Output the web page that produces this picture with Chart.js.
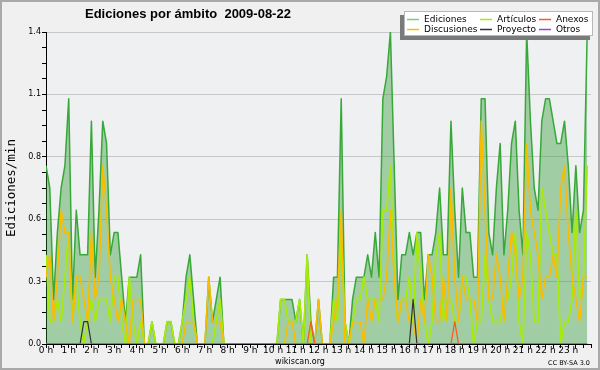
<!DOCTYPE html>
<html>
<head>
<meta charset="utf-8">
<script src="https://cdn.jsdelivr.net/npm/chart.js@4.4.1/dist/chart.umd.min.js"></script>
<style>
  html, body { margin: 0; padding: 0; background: #f0f0f0; }
  canvas { display: block; }
</style>
</head>
<body>
<canvas id="chart" width="600" height="370"></canvas>
<script>
// 10-minute slots over the day (0 = 00:00, 143 = 23:50)
const slots = Array.from({ length: 144 }, (_, i) => i);

// edits per minute, one row per hour
const ediciones = [
  0.8, 0.7, 0.2, 0.5, 0.7, 0.8,   // 0 h
  1.1, 0.2, 0.6, 0.4, 0.4, 0.4,   // 1 h
  1.0, 0.3, 0.6, 1.0, 0.9, 0.4,   // 2 h
  0.5, 0.5, 0.3, 0.1, 0.3, 0.3,   // 3 h
  0.3, 0.4, 0,   0,   0.1, 0,     // 4 h
  0,   0,   0.1, 0.1, 0,   0,     // 5 h
  0.1, 0.3, 0.4, 0.2, 0,   0,     // 6 h
  0,   0.3, 0.1, 0.2, 0.3, 0,     // 7 h
  0,   0,   0,   0,   0,   0,     // 8 h
  0,   0,   0,   0,   0,   0,     // 9 h
  0,   0,   0.2, 0.2, 0.2, 0.2,   // 10 h
  0.1, 0.2, 0,   0.4, 0.1, 0,     // 11 h
  0.2, 0,   0,   0,   0.3, 0.3,   // 12 h
  1.1, 0.1, 0,   0.2, 0.3, 0.3,   // 13 h
  0.3, 0.4, 0.3, 0.5, 0.3, 1.1,   // 14 h
  1.2, 1.4, 0.8, 0.2, 0.4, 0.4,   // 15 h
  0.5, 0.4, 0.5, 0.5, 0.2, 0.4,   // 16 h
  0.4, 0.5, 0.7, 0.4, 0.4, 1.0,   // 17 h
  0.6, 0.3, 0.7, 0.5, 0.5, 0.3,   // 18 h
  0.3, 1.1, 1.1, 0.5, 0.4, 0.7,   // 19 h
  0.9, 0.4, 0.6, 0.9, 1.0, 0.6,   // 20 h
  0.4, 1.4, 1.0, 0.7, 0.6, 1.0,   // 21 h
  1.1, 1.1, 1.0, 0.9, 0.9, 1.0,   // 22 h
  0.8, 0.5, 0.8, 0.5, 0.6, 1.4    // 23 h
];

const articulos = [
  0.4, 0.1, 0.1, 0.2, 0.1, 0.3,   // 0 h
  0.5, 0.1, 0.3, 0.1, 0,   0.1,   // 1 h
  0.2, 0.1, 0.2, 0.2, 0.2, 0.1,   // 2 h
  0.3, 0.3, 0.1, 0,   0.3, 0.1,   // 3 h
  0,   0.1, 0,   0,   0.1, 0,     // 4 h
  0,   0,   0.1, 0.1, 0,   0,     // 5 h
  0.1, 0.2, 0.3, 0.1, 0,   0,     // 6 h
  0,   0,   0,   0.1, 0.2, 0,     // 7 h
  0,   0,   0,   0,   0,   0,     // 8 h
  0,   0,   0,   0,   0,   0,     // 9 h
  0,   0,   0.2, 0.2, 0.1, 0.1,   // 10 h
  0.1, 0.2, 0,   0.4, 0,   0,     // 11 h
  0,   0,   0,   0,   0.2, 0.1,   // 12 h
  0.5, 0.1, 0,   0.1, 0.2, 0.2,   // 13 h
  0.3, 0.2, 0.2, 0.2, 0.1, 0.6,   // 14 h
  0.6, 0.8, 0.3, 0.1, 0.2, 0.2,   // 15 h
  0.3, 0.1, 0.5, 0.3, 0.1, 0,     // 16 h
  0.1, 0.4, 0.5, 0.1, 0.2, 0.2,   // 17 h
  0.1, 0.1, 0.3, 0.3, 0.2, 0,     // 18 h
  0.1, 0.1, 0.4, 0.2, 0.1, 0.1,   // 19 h
  0.1, 0.2, 0.2, 0.3, 0.5, 0.1,   // 20 h
  0,   0.5, 0.4, 0.1, 0.1, 0.7,   // 21 h
  0.6, 0.5, 0.4, 0.4, 0,   0.1,   // 22 h
  0.1, 0.2, 0.6, 0.2, 0.3, 0.8    // 23 h
];

const discusiones = [
  0.3, 0.4, 0.1, 0.3, 0.6, 0.5,   // 0 h
  0.5, 0.1, 0.3, 0.3, 0.2, 0.1,   // 1 h
  0.5, 0.2, 0.3, 0.8, 0.6, 0.3,   // 2 h
  0.2, 0.1, 0.2, 0.1, 0,   0.2,   // 3 h
  0.2, 0.2, 0,   0,   0,   0,     // 4 h
  0,   0,   0,   0,   0,   0,     // 5 h
  0,   0.1, 0.1, 0.1, 0,   0,     // 6 h
  0,   0.3, 0.1, 0.1, 0.1, 0,     // 7 h
  0,   0,   0,   0,   0,   0,     // 8 h
  0,   0,   0,   0,   0,   0,     // 9 h
  0,   0,   0,   0,   0.1, 0.1,   // 10 h
  0,   0,   0,   0,   0,   0,     // 11 h
  0.2, 0,   0,   0,   0.1, 0.2,   // 12 h
  0.6, 0,   0,   0.1, 0.1, 0.1,   // 13 h
  0,   0.2, 0.1, 0.2, 0.2, 0.2,   // 14 h
  0.3, 0.6, 0.3, 0.1, 0.2, 0.2,   // 15 h
  0.1, 0.1, 0,   0.2, 0.1, 0.4,   // 16 h
  0.3, 0.1, 0.1, 0.3, 0.1, 0.7,   // 17 h
  0.3, 0.1, 0.3, 0.2, 0.2, 0.2,   // 18 h
  0.1, 1.0, 0.6, 0.2, 0.2, 0.4,   // 19 h
  0.3, 0.1, 0.3, 0.5, 0.4, 0.2,   // 20 h
  0.3, 0.9, 0.6, 0.5, 0.4, 0.2,   // 21 h
  0.3, 0.3, 0.4, 0.3, 0.7, 0.8,   // 22 h
  0.5, 0.3, 0.2, 0.1, 0.3, 0.3    // 23 h
];

const proyecto = [
  0, 0, 0, 0, 0, 0,      0, 0, 0, 0, 0.1, 0.1,  // 0-1 h
  0, 0, 0, 0, 0, 0,      0, 0, 0, 0, 0, 0,      // 2-3 h
  0, 0, 0, 0, 0, 0,      0, 0, 0, 0, 0, 0,      // 4-5 h
  0, 0, 0, 0, 0, 0,      0, 0, 0, 0, 0, 0,      // 6-7 h
  0, 0, 0, 0, 0, 0,      0, 0, 0, 0, 0, 0,      // 8-9 h
  0, 0, 0, 0, 0, 0,      0, 0, 0, 0, 0, 0,      // 10-11 h
  0, 0, 0, 0, 0, 0,      0, 0, 0, 0, 0, 0,      // 12-13 h
  0, 0, 0, 0, 0, 0,      0, 0, 0, 0, 0, 0,      // 14-15 h
  0, 0.2, 0, 0, 0, 0,    0, 0, 0, 0, 0, 0,      // 16-17 h
  0, 0, 0, 0, 0, 0,      0, 0, 0, 0, 0, 0,      // 18-19 h
  0, 0, 0, 0, 0, 0,      0, 0, 0, 0, 0, 0,      // 20-21 h
  0, 0, 0, 0, 0, 0,      0, 0, 0, 0, 0, 0       // 22-23 h
];

const anexos = [
  0, 0, 0, 0, 0, 0,      0, 0, 0, 0, 0, 0,      // 0-1 h
  0, 0, 0, 0, 0, 0,      0, 0, 0, 0, 0, 0,      // 2-3 h
  0, 0, 0, 0, 0, 0,      0, 0, 0, 0, 0, 0,      // 4-5 h
  0, 0, 0, 0, 0, 0,      0, 0, 0, 0, 0, 0,      // 6-7 h
  0, 0, 0, 0, 0, 0,      0, 0, 0, 0, 0, 0,      // 8-9 h
  0, 0, 0, 0, 0, 0,      0, 0, 0, 0, 0.1, 0,    // 10-11 h
  0, 0, 0, 0, 0, 0,      0, 0, 0, 0, 0, 0,      // 12-13 h
  0, 0, 0, 0, 0, 0,      0, 0, 0, 0, 0, 0,      // 14-15 h
  0, 0, 0, 0, 0, 0,      0, 0, 0, 0, 0, 0,      // 16-17 h
  0.1, 0, 0, 0, 0, 0,    0, 0, 0, 0, 0, 0,      // 18-19 h
  0, 0, 0, 0, 0, 0,      0, 0, 0, 0, 0, 0,      // 20-21 h
  0, 0, 0, 0, 0, 0,      0, 0, 0, 0, 0, 0       // 22-23 h
];

// nothing visible for "Otros" on that day
const otros = slots.map(() => 0);

const yMax = 1.4;
const yMajor = 0.28;   // labelled gridlines
const yMinor = 0.07;   // small ticks
const isMajor = v => Math.abs(v / yMajor - Math.round(v / yMajor)) < 1e-6;

// background, frame, title, legend box and footer
const decor = {
    id: "decor",
    beforeDraw(chart) {
        const { ctx, chartArea: a } = chart;
        ctx.save();
        ctx.fillStyle = "#f0f0f0";
        ctx.fillRect(0, 0, chart.width, chart.height);
        ctx.fillStyle = "#eef0f2";
        ctx.fillRect(a.left, a.top, a.right - a.left, a.bottom - a.top);
        ctx.restore();
    },
    afterDatasetsDraw(chart) {
        // keep the axis line black on top of the zero-level lines
        const { ctx, chartArea: a } = chart;
        ctx.save();
        ctx.strokeStyle = "#000";
        ctx.lineWidth = 1;
        ctx.beginPath();
        ctx.moveTo(Math.round(a.left) + 0.5, Math.round(a.bottom) + 0.5);
        ctx.lineTo(Math.round(a.right), Math.round(a.bottom) + 0.5);
        ctx.stroke();
        ctx.restore();
    },
    afterDraw(chart) {
        const ctx = chart.ctx;
        ctx.save();

        // outer frame
        ctx.strokeStyle = "#a9a9a9";
        ctx.lineWidth = 2;
        ctx.strokeRect(1, 1, chart.width - 2, chart.height - 2);

        // title
        ctx.fillStyle = "#000";
        ctx.font = "bold 13px 'Liberation Sans'";
        ctx.textAlign = "left";
        ctx.textBaseline = "alphabetic";
        ctx.fillText("Ediciones por ámbito  2009-08-22", 85, 18);

        // legend box with its shadow
        ctx.fillStyle = "#7a7a7a";
        ctx.fillRect(400, 15, 190, 25);
        ctx.fillStyle = "#ffffff";
        ctx.fillRect(404, 11, 189, 25);
        ctx.strokeStyle = "#b8b8b8";
        ctx.lineWidth = 1;
        ctx.strokeRect(404.5, 11.5, 188, 24);

        const cols = [407, 480, 539];
        const rows = [19, 29];
        const order = [0, 1, 4, 2, 3, 5]; // Ediciones, Artículos, Anexos / Discusiones, Proyecto, Otros
        ctx.font = "9px 'DejaVu Sans'";
        order.forEach((di, k) => {
            const ds = chart.data.datasets[di];
            const x = cols[k % 3];
            const y = rows[Math.floor(k / 3)];
            ctx.strokeStyle = ds.legendColor || ds.borderColor;
            ctx.lineWidth = 1.5;
            ctx.beginPath();
            ctx.moveTo(x, y + 0.5);
            ctx.lineTo(x + 12, y + 0.5);
            ctx.stroke();
            ctx.fillStyle = "#000";
            ctx.fillText(ds.label, x + 17, y + 3);
        });

        // footer
        ctx.font = "8px 'DejaVu Sans'";
        ctx.textAlign = "center";
        ctx.fillText("wikiscan.org", 300, 364);
        ctx.font = "6.5px 'DejaVu Sans'";
        ctx.textAlign = "right";
        ctx.fillText("CC BY-SA 3.0", 590, 365);

        ctx.restore();
    }
};

const ctx = document.getElementById("chart").getContext("2d");
new Chart(ctx, {
    type: "line",
    data: {
        labels: slots,
        datasets: [
            {
                label: "Ediciones",
                data: ediciones,
                order: 6,
                fill: "origin",
                backgroundColor: "rgba(40, 150, 40, 0.39)",
                borderColor: "#38a838",
                borderWidth: 1.5,
                legendColor: "#80c880"
            },
            { label: "Artículos", data: articulos, order: 5, borderColor: "#a8ea08", borderWidth: 1.7 },
            { label: "Discusiones", data: discusiones, order: 4, borderColor: "#f9bd00", borderWidth: 1.6 },
            { label: "Proyecto", data: proyecto, order: 3, borderColor: "#333333", borderWidth: 1.2 },
            { label: "Anexos", data: anexos, order: 2, borderColor: "#ff5a1e", borderWidth: 1.3 },
            { label: "Otros", data: otros, order: 1, borderColor: "#9a40e0", hidden: true }
        ]
    },
    options: {
        responsive: false,
        animation: false,
        events: [],
        layout: { padding: { top: 32, right: 9, left: 0, bottom: 0 } },
        elements: {
            point: { radius: 0 },
            line: { tension: 0, borderWidth: 1, fill: false, borderJoinStyle: "round" }
        },
        plugins: {
            legend: { display: false },
            title: { display: false },
            tooltip: { enabled: false }
        },
        scales: {
            x: {
                type: "linear",
                min: 0,
                max: 144,
                afterFit(scale) { scale.height = 26; },
                grid: { drawOnChartArea: false, tickLength: 4, tickColor: "#000" },
                border: { color: "#000" },
                ticks: {
                    stepSize: 2,
                    autoSkip: false,
                    maxRotation: 0,
                    padding: -2,
                    color: "#000",
                    font: { family: "DejaVu Sans", size: 9, lineHeight: 1 },
                    callback: v => (v % 6 === 0 && v < 144) ? (v / 6) + " h" : ""
                }
            },
            y: {
                min: 0,
                max: yMax,
                afterFit(scale) { scale.width = 46; },
                grid: {
                    color: c => isMajor(c.tick.value) ? "#c8c8c8" : "rgba(0,0,0,0)",
                    tickColor: "#000",
                    tickLength: 4
                },
                border: { color: "#000" },
                ticks: {
                    stepSize: yMinor,
                    autoSkip: false,
                    padding: 1,
                    color: "#000",
                    font: { family: "DejaVu Sans", size: 8 },
                    callback: v => isMajor(v) ? v.toFixed(1) : ""
                },
                title: {
                    display: true,
                    text: "Ediciones/min",
                    color: "#000",
                    font: { family: "DejaVu Sans Mono", size: 12.5 },
                    padding: { top: 4, bottom: 0 }
                }
            }
        }
    },
    plugins: [decor]
});
</script>
</body>
</html>
